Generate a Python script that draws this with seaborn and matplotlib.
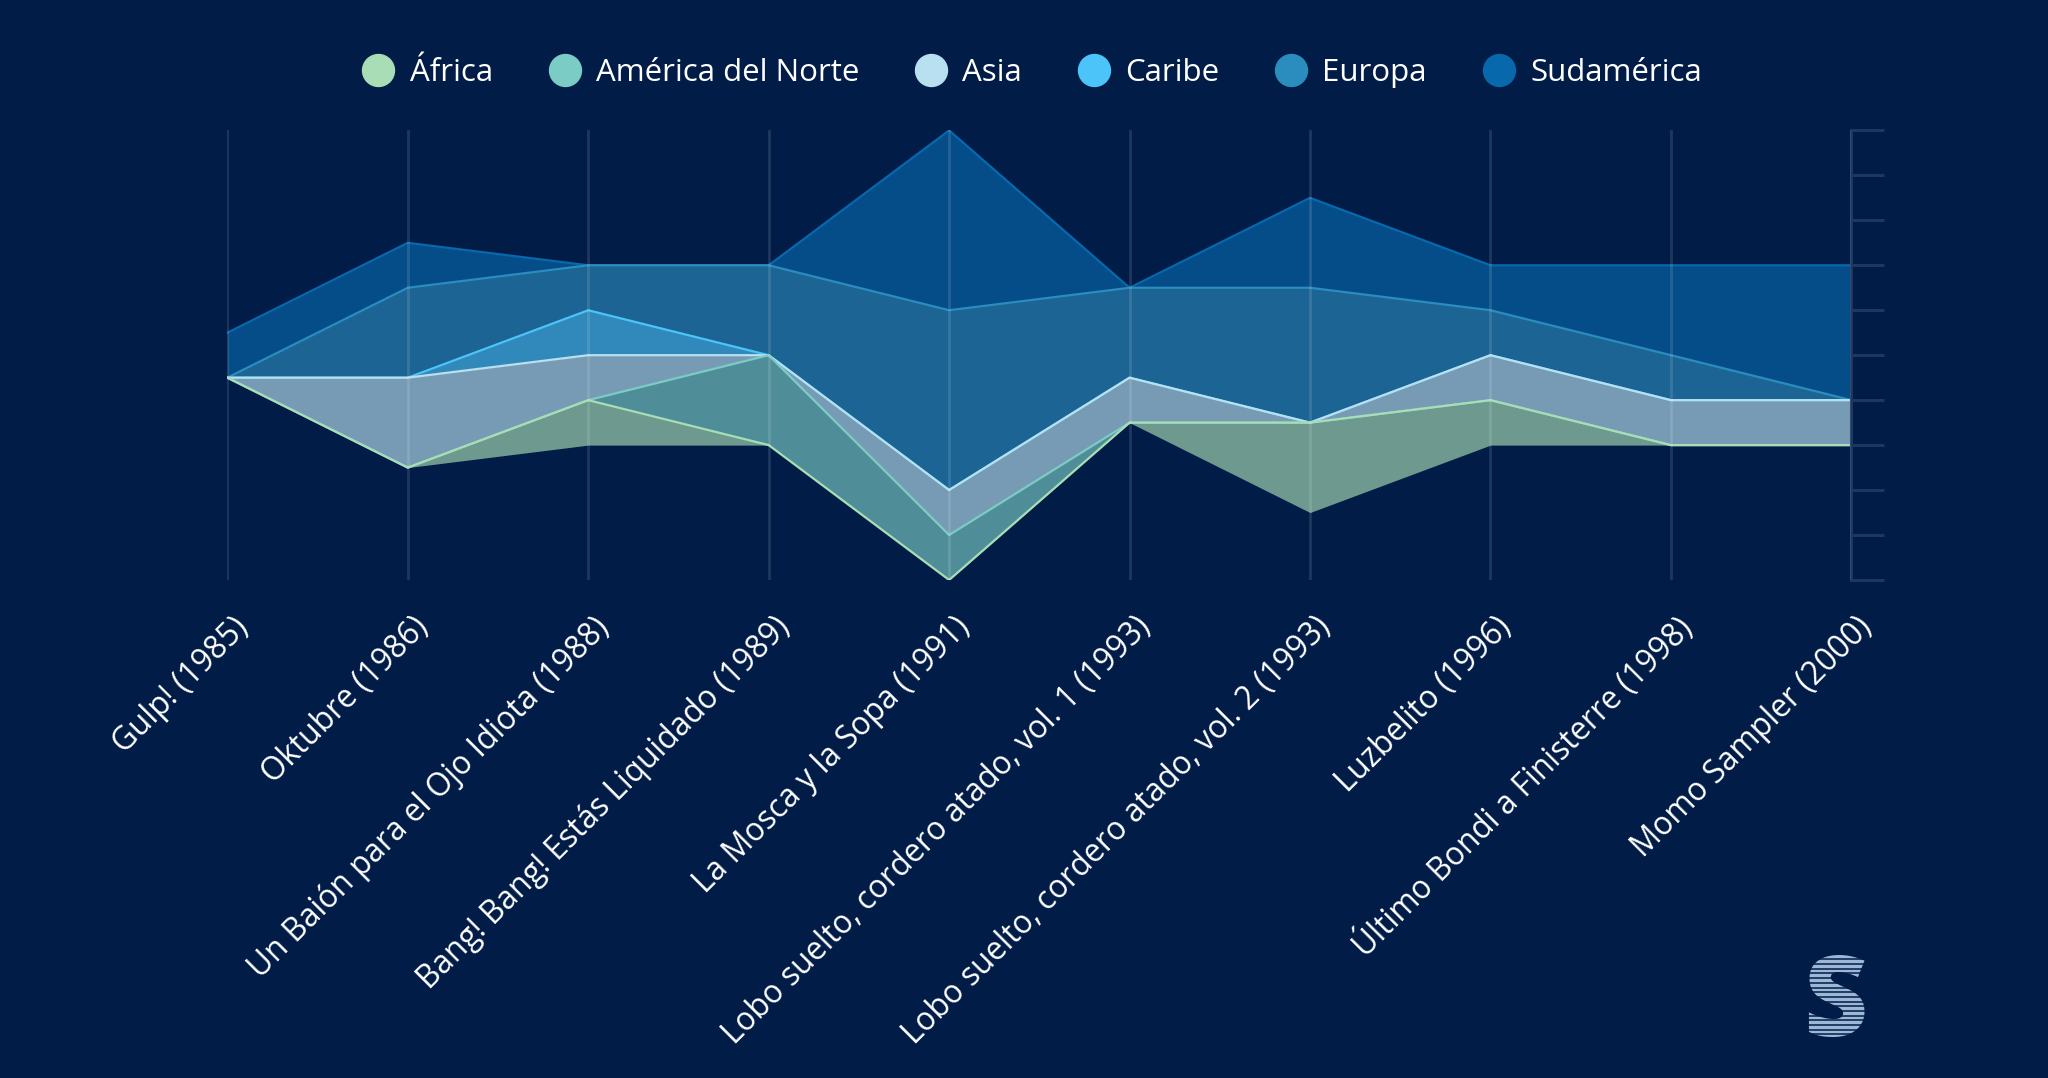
import numpy as np
import pandas as pd
import matplotlib.pyplot as plt
import matplotlib.transforms as mtransforms
from matplotlib.lines import Line2D
import seaborn as sns

# Datos
albums = ['Gulp! (1985)', 'Oktubre (1986)', 'Un Baión para el Ojo Idiota (1988)',
          'Bang! Bang! Estás Liquidado (1989)', 'La Mosca y la Sopa (1991)',
          'Lobo suelto, cordero atado, vol. 1 (1993)', 'Lobo suelto, cordero atado, vol. 2 (1993)',
          'Luzbelito (1996)', 'Último Bondi a Finisterre (1998)', 'Momo Sampler (2000)']
regiones = ['África', 'América del Norte', 'Asia', 'Caribe', 'Europa', 'Sudamérica']
africa = [0, 0, 1, 0, 0, 0, 2, 1, 0, 0]
america_norte = [0, 0, 0, 2, 1, 0, 0, 0, 0, 0]
asia = [0, 2, 1, 0, 1, 1, 0, 1, 1, 1]
caribe = [0, 0, 1, 0, 0, 0, 0, 0, 0, 0]
europa = [0, 2, 1, 2, 4, 2, 3, 1, 1, 0]
sudamerica = [1, 1, 0, 0, 4, 0, 2, 1, 2, 3]
colores = ['#a8ddb5', '#7bccc4', '#b8e0f0', '#4cc4fa', '#2b8cbe', '#0868ac']

fondo = '#001c47'
sns.set_theme(style='dark', rc={'figure.facecolor': fondo, 'axes.facecolor': fondo})
plt.rcParams['font.family'] = ['Open Sans', 'DejaVu Sans']

valores = np.array([africa, america_norte, asia, caribe, europa, sudamerica], dtype=float)
x = np.arange(len(albums))
total = valores.sum(axis=0)
base = -total / 2  # streamgraph centrado
tops = base + np.cumsum(valores, axis=0)
bottoms = np.vstack([base, tops[:-1]])

fig = plt.figure(figsize=(20.48, 10.78), dpi=100)
ax = fig.add_axes([0.111, 0.462, 0.793, 0.417])

for i in range(len(regiones)):
    ax.fill_between(x, bottoms[i], tops[i], color=colores[i], alpha=0.65, linewidth=0, zorder=1)

# bordes superiores (las capas de abajo se dibujan encima)
df = pd.DataFrame({
    'pos': np.tile(x, len(regiones)),
    'top': tops.ravel(),
    'region': np.repeat(regiones, len(albums)),
})
sns.lineplot(data=df, x='pos', y='top', hue='region', hue_order=regiones[::-1],
             palette=dict(zip(regiones, colores)), estimator=None, linewidth=1.6,
             legend=False, ax=ax, zorder=2)

ax.set_xlim(0, len(albums) - 1)
ax.set_ylim(-5, 5)
ax.set_xlabel('')
ax.set_ylabel('')
ax.set_xticks(x)
ax.set_xticklabels(albums, rotation=45, ha='right', va='center', rotation_mode='anchor',
                   color='white', fontsize=22.7)
ax.tick_params(axis='x', length=0, pad=22)
desplazamiento = mtransforms.ScaledTranslation(0.16, -0.12, fig.dpi_scale_trans)
for lbl in ax.get_xticklabels():
    lbl.set_transform(lbl.get_transform() + desplazamiento)
ax.set_yticks(np.arange(-5, 6, 1))
ax.yaxis.tick_right()
ax.tick_params(axis='y', length=24, width=2.2, color='#1d3760', labelright=False, labelleft=False)
for s in ['top', 'bottom', 'left']:
    ax.spines[s].set_visible(False)
ax.spines['right'].set_visible(True)
ax.spines['right'].set_color('#1d3760')
ax.spines['right'].set_linewidth(2.2)
ax.grid(axis='x', color='white', alpha=0.12, linewidth=2)
ax.grid(axis='y', visible=False)
ax.set_axisbelow(False)

handles = [Line2D([], [], marker='o', linestyle='none', markersize=23, color=c) for c in colores]
fig.legend(handles, regiones, loc='center', bbox_to_anchor=(0.504, 0.932), ncol=6,
           frameon=False, fontsize=22.5, labelcolor='white', handlelength=1.0,
           handletextpad=0.5, columnspacing=1.8)

# logo
fig.text(0.896, 0.066, 'S', color='#9db8d6', fontsize=80, fontweight='black',
         ha='center', va='center')
for yy in np.linspace(0.036, 0.11, 18):
    fig.add_artist(Line2D([0.872, 0.92], [yy, yy], color=fondo, linewidth=1.1, zorder=5))

fig.savefig('out.png', dpi=100, facecolor=fondo)
